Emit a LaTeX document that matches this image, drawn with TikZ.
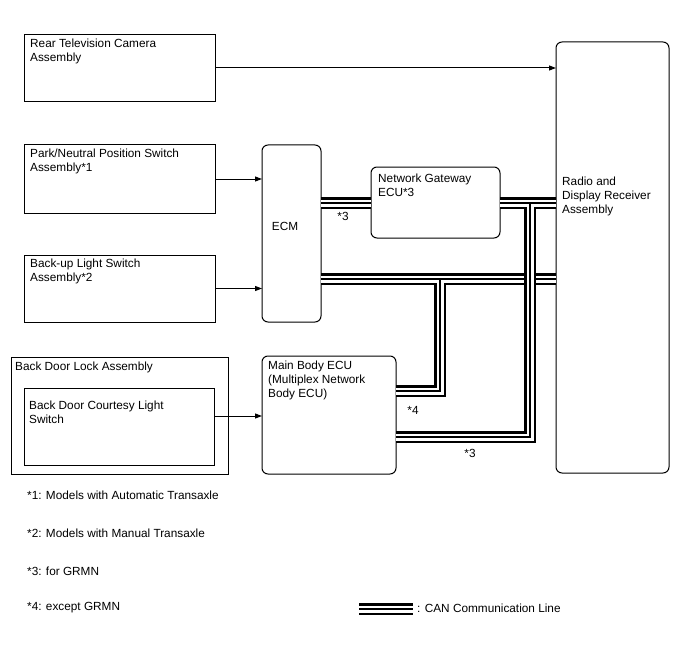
\documentclass[tikz,border=0pt]{standalone}
\usepackage{fontspec}
\setmainfont{Liberation Sans}
\usetikzlibrary{arrows.meta}
\newcommand\mycan[1]{%
  \draw[line width=12pt] #1;
  \draw[white,line width=7pt] #1;
  \draw[line width=1.2pt] #1;}
\begin{document}
\begin{tikzpicture}[x=1pt,y=-1pt,
  font=\fontsize{11.8}{14}\selectfont,
  box/.style={draw, line width=1pt, anchor=north west, inner sep=0pt, outer sep=0pt},
  rbox/.style={box, rounded corners=6pt},
  txt/.style={anchor=north west, inner sep=0pt, align=left},
  lbl/.style={inner sep=0pt},
  arr/.style={line width=1pt, -{Triangle[length=7pt,width=5pt]}}]
\useasboundingbox (0,0) rectangle (688,658);

% boxes
\node[box, minimum width=191pt, minimum height=67pt] (rtc) at (24,35) {};
\node[box, minimum width=191pt, minimum height=68pt] (pnp) at (24,145) {};
\node[box, minimum width=191pt, minimum height=67pt] (bls) at (24,255) {};
\node[box, minimum width=217pt, minimum height=117pt] (bdl) at (11,357) {};
\node[box, minimum width=190pt, minimum height=77pt] (cls) at (24,388) {};
\node[rbox, minimum width=59pt, minimum height=177pt] (ecm) at (262,145) {};
\node[rbox, minimum width=129pt, minimum height=71pt] (gw) at (371,167) {};
\node[rbox, minimum width=134pt, minimum height=118pt] (mbe) at (262,356) {};
\node[rbox, minimum width=113pt, minimum height=431pt] (radio) at (556,42) {};

% texts
\node[txt] (trtc) at (30,39) {Rear Television Camera\\Assembly};
\node[txt] (tpnp) at (30,149) {Park/Neutral Position Switch\\Assembly*1};
\node[txt] (tbls) at (30,259) {Back-up Light Switch\\Assembly*2};
\node[txt] (tbdl) at (15,362) {Back Door Lock Assembly};
\node[txt] (tcls) at (29,401) {Back Door Courtesy Light\\Switch};
\node[lbl] (tecm) at (285,226) {ECM};
\node[txt] (tgw) at (378,174) {Network Gateway\\ECU*3};
\node[txt] (tmbe) at (268,361) {Main Body ECU\\(Multiplex Network\\Body ECU)};
\node[txt] (tradio) at (562,177) {Radio and\\Display Receiver\\Assembly};

% arrows
\coordinate (yr) at (0,68);
\coordinate (yc) at (0,416);
\draw[arr] (rtc.east |- yr) -- (radio.west |- yr);
\draw[arr] (pnp.east) -- (ecm.west |- pnp.east);
\draw[arr] (bls.east) -- (ecm.west |- bls.east);
\draw[arr] (cls.east |- yc) -- (mbe.west |- yc);

% CAN lines
\coordinate (yg) at (0,203);
\coordinate (ye) at (0,279);
\coordinate (j4) at (440,279);
\coordinate (k4) at (440,391);
\coordinate (j3) at (530,203);
\coordinate (k3) at (530,437);
\mycan{(ecm.east |- ye) -- (radio.west |- ye) (j4) -- (k4) -- (mbe.east |- k4)}
\mycan{(ecm.east |- yg) -- (gw.west |- yg)}
\mycan{(gw.east |- yg) -- (radio.west |- yg) (j3) -- (k3) -- (mbe.east |- k3)}

% CAN labels
\node[lbl] (l1) at (343,216) {*3};
\node[lbl] (l2) at (413,410) {*4};
\node[lbl] (l3) at (470,453) {*3};

% footnotes
\node[lbl, anchor=west] (f1) at (27,495) {*1: Models with Automatic Transaxle};
\node[lbl, anchor=west] (f2) at (27,533) {*2: Models with Manual Transaxle};
\node[lbl, anchor=west] (f3) at (27,571) {*3: for GRMN};
\node[lbl, anchor=west] (f4) at (27,608) {*4: except GRMN};
\coordinate (lg1) at (359,609);
\coordinate (lg2) at (413,609);
\mycan{(lg1) -- (lg2)}
\node[lbl, anchor=west] (lgt) at (417,608) {: CAN Communication Line};
\end{tikzpicture}
\end{document}
